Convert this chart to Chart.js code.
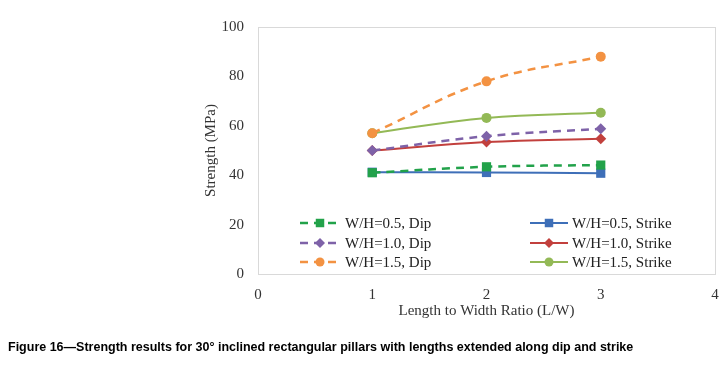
<!DOCTYPE html>
<html>
<head>
<meta charset="utf-8">
<script src="https://cdn.jsdelivr.net/npm/chart.js@4/dist/chart.umd.min.js"></script>
<style>
  body { margin: 0; background: #fff; }
  #wrap { position: relative; width: 726px; height: 367px; }
  #caption {
    position: absolute; left: 8px; top: 340px;
    font: bold 12.5px "Liberation Sans", Arial, sans-serif;
    color: #000; white-space: nowrap;
  }
</style>
</head>
<body>
<div id="wrap">
  <canvas id="myChart" width="726" height="367"></canvas>
  <div id="caption">Figure 16—Strength results for 30° inclined rectangular pillars with lengths extended along dip and strike</div>
</div>
<script>
const ratios = [1, 2, 3];
const dip05 = [41, 43.4, 44.1];
const dip10 = [50, 55.8, 58.8];
const dip15 = [57, 78, 88];
const strike05 = [41.2, 41.1, 40.8];
const strike10 = [50, 53.4, 54.8];
const strike15 = [57, 63.2, 65.3];

const serif = '"Liberation Serif", "Times New Roman", serif';

function pts(vals) {
  return vals.map((v, i) => ({ x: ratios[i], y: v }));
}

// marker radius per style so squares / diamonds / circles come out about the same size
const radii = { rect: 6.5, rectRot: 5.5, circle: 5 };

function series(label, vals, color, style, dashed) {
  return {
    label: label,
    data: pts(vals),
    borderColor: color,
    backgroundColor: color,
    pointStyle: style,
    pointRadius: radii[style],
    pointBorderWidth: 0,
    borderWidth: dashed ? 2.5 : 2,
    borderDash: dashed ? [8, 6] : [],
    tension: 0.4,
    dip: dashed
  };
}

const lineData = {
  datasets: [
    series('W/H=0.5, Dip', dip05, '#22A24A', 'rect', true),
    series('W/H=1.0, Dip', dip10, '#7E62A8', 'rectRot', true),
    series('W/H=1.5, Dip', dip15, '#F39242', 'circle', true),
    series('W/H=0.5, Strike', strike05, '#3E6FB8', 'rect', false),
    series('W/H=1.0, Strike', strike10, '#C2403D', 'rectRot', false),
    series('W/H=1.5, Strike', strike15, '#93B956', 'circle', false)
  ]
};

// plot frame + excel style legend inside the plot
const framePlugin = {
  id: 'frame',
  beforeDatasetsDraw(chart) {
    const a = chart.chartArea, ctx = chart.ctx;
    ctx.save();
    ctx.strokeStyle = '#D9D9D9';
    ctx.lineWidth = 1;
    ctx.strokeRect(a.left + 0.5, a.top + 0.5, a.right - a.left, a.bottom - a.top);
    ctx.restore();
  },
  afterDraw(chart) {
    const ctx = chart.ctx;
    const rows = [223, 243, 262];
    const cols = [{ x0: 300, x1: 340, tx: 345 }, { x0: 530, x1: 568, tx: 572 }];
    let dipRow = 0, strikeRow = 0;
    ctx.save();
    chart.data.datasets.forEach((ds) => {
      const c = ds.dip ? cols[0] : cols[1];
      const y = rows[ds.dip ? dipRow++ : strikeRow++];
      ctx.strokeStyle = ds.borderColor;
      ctx.lineWidth = ds.borderWidth;
      ctx.setLineDash(ds.borderDash);
      ctx.beginPath();
      ctx.moveTo(c.x0, y);
      ctx.lineTo(c.x1, y);
      ctx.stroke();
      ctx.setLineDash([]);
      ctx.fillStyle = ds.backgroundColor;
      Chart.helpers.drawPoint(ctx, { pointStyle: ds.pointStyle, radius: ds.pointRadius - 0.5, borderWidth: 0, rotation: 0 }, (c.x0 + c.x1) / 2, y);
      ctx.fillStyle = '#222';
      ctx.font = '15px ' + serif;
      ctx.textBaseline = 'middle';
      ctx.fillText(ds.label, c.tx, y + 1);
    });
    ctx.restore();
  }
};

const myChart = new Chart(document.getElementById('myChart'), {
  type: 'line',
  data: lineData,
  options: {
    responsive: false,
    animation: false,
    layout: { padding: { left: 198, right: 11, top: 27, bottom: 43 } },
    plugins: {
      legend: { display: false },
      tooltip: { enabled: false }
    },
    scales: {
      x: {
        type: 'linear',
        min: 0,
        max: 4,
        grid: { display: false },
        border: { display: false },
        ticks: { stepSize: 1, padding: 4, color: '#333', font: { family: serif, size: 15 } },
        title: { display: true, text: 'Length to Width Ratio (L/W)', color: '#333', font: { family: serif, size: 15 } },
        afterFit(scale) { scale.height = 50; }
      },
      y: {
        min: 0,
        max: 100,
        grid: { display: false },
        border: { display: false },
        ticks: { stepSize: 20, padding: 6, color: '#333', font: { family: serif, size: 15 } },
        title: { display: true, text: 'Strength (MPa)', color: '#333', font: { family: serif, size: 15 } },
        afterFit(scale) { scale.width = 60; }
      }
    }
  },
  plugins: [framePlugin]
});
</script>
</body>
</html>
